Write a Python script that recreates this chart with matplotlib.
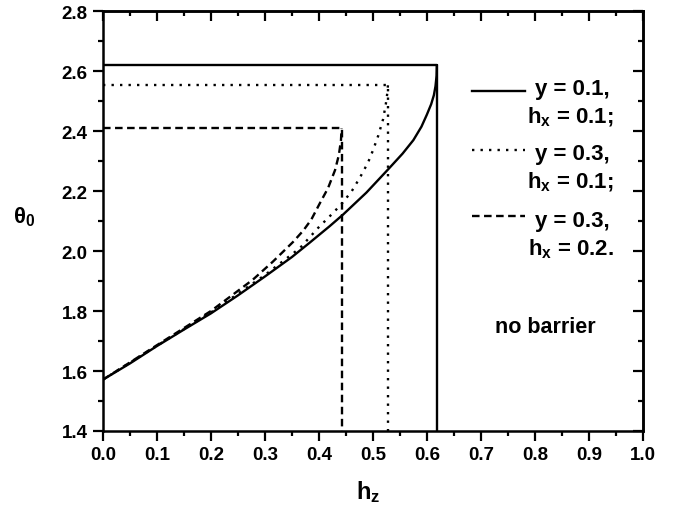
import numpy as np
import matplotlib
matplotlib.use("Agg")
import matplotlib.pyplot as plt
from matplotlib.ticker import MultipleLocator

plt.rcParams['font.family'] = ['Liberation Sans', 'DejaVu Sans']
plt.rcParams['mathtext.default'] = 'regular'

# curvas theta_0(h_z) hasta la barrera
hz_solid = [0.0, 0.05, 0.1, 0.15, 0.2, 0.25, 0.3, 0.35, 0.383, 0.42, 0.445, 0.488, 0.528,
            0.555, 0.575, 0.59, 0.60, 0.608, 0.613, 0.616, 0.618, 0.6185]
th_solid = [1.571, 1.625, 1.683, 1.738, 1.792, 1.852, 1.915, 1.98, 2.028, 2.083, 2.122, 2.195, 2.272,
            2.325, 2.37, 2.415, 2.455, 2.49, 2.52, 2.55, 2.585, 2.62]

hz_dot = [0.0, 0.1, 0.2, 0.3, 0.365, 0.38, 0.399, 0.424, 0.442, 0.461, 0.476, 0.491,
          0.5, 0.51, 0.519, 0.524, 0.527, 0.528]
th_dot = [1.571, 1.684, 1.795, 1.92, 2.01, 2.04, 2.078, 2.123, 2.157, 2.20, 2.245, 2.295,
          2.335, 2.385, 2.44, 2.49, 2.53, 2.555]

hz_dash = [0.0, 0.1, 0.2, 0.241, 0.278, 0.315, 0.352, 0.371, 0.386, 0.402, 0.417, 0.43,
           0.437, 0.441, 0.442]
th_dash = [1.571, 1.686, 1.80, 1.855, 1.905, 1.965, 2.03, 2.068, 2.105, 2.16, 2.21, 2.27,
           2.32, 2.37, 2.409]

# limites de cada caso: h_z critico y theta maximo
hz_crit = [0.6185, 0.528, 0.442]
th_max = [2.62, 2.555, 2.409]

etiquetas_y = ['y = 0.1,', 'y = 0.3,', 'y = 0.3,']
etiquetas_hx = ['0.1;', '0.1;', '0.2.']

estilos = ['-', (0, (1, 2.6)), (0, (3.2, 1.9))]
curvas = [(hz_solid, th_solid), (hz_dot, th_dot), (hz_dash, th_dash)]

fig = plt.figure(figsize=(6.81, 5.10), dpi=100)
ax = fig.add_axes([0.151, 0.153, 0.793, 0.823])

for (hz, th), hc, tm, ls in zip(curvas, hz_crit, th_max, estilos):
    ax.plot(hz, th, color='black', lw=1.7, ls=ls)
    ax.plot([0, hc, hc], [tm, tm, 1.4], color='black', lw=1.7, ls=ls)

ax.set_xlim(0, 1.0)
ax.set_ylim(1.4, 2.8)
ax.xaxis.set_major_locator(MultipleLocator(0.1))
ax.xaxis.set_minor_locator(MultipleLocator(0.05))
ax.yaxis.set_major_locator(MultipleLocator(0.2))
ax.yaxis.set_minor_locator(MultipleLocator(0.1))
ax.xaxis.set_major_formatter(plt.FormatStrFormatter('%.1f'))
ax.yaxis.set_major_formatter(plt.FormatStrFormatter('%.1f'))

for s in ax.spines.values():
    s.set_linewidth(1.8)

ax.tick_params(which='both', direction='out', width=1.6, top=False, right=False)
ax.tick_params(which='major', length=7, labelsize=13.5, pad=4)
ax.tick_params(which='minor', length=3.5)
for lab in ax.get_xticklabels() + ax.get_yticklabels():
    lab.set_fontweight('bold')

# ticks interiores arriba y a la derecha
ax2 = ax.secondary_xaxis('top')
ax2.xaxis.set_major_locator(MultipleLocator(0.1))
ax2.xaxis.set_minor_locator(MultipleLocator(0.05))
ax2.tick_params(which='both', direction='in', width=1.6, labeltop=False)
ax2.tick_params(which='major', length=7)
ax2.tick_params(which='minor', length=3.5)
ax3 = ax.secondary_yaxis('right')
ax3.yaxis.set_major_locator(MultipleLocator(0.2))
ax3.yaxis.set_minor_locator(MultipleLocator(0.1))
ax3.tick_params(which='both', direction='in', width=1.6, labelright=False)
ax3.tick_params(which='major', length=7)
ax3.tick_params(which='minor', length=3.5)
ax2.spines['top'].set_linewidth(1.8)
ax3.spines['right'].set_linewidth(1.8)

fig.text(0.035, 0.575, r'θ$_0$', fontsize=16, fontweight='bold', ha='center', va='center')
fig.text(0.54, 0.035, r'h$_z$', fontsize=17, fontweight='bold', ha='center', va='center')

# leyenda manual
y_linea = [0.810, 0.669, 0.512]
y_texto1 = [0.802, 0.648, 0.488]
y_texto2 = [0.736, 0.581, 0.421]
for yl, y1, y2, ls, e1, e2 in zip(y_linea, y_texto1, y_texto2, estilos, etiquetas_y, etiquetas_hx):
    ax.plot([0.683, 0.781], [yl, yl], transform=ax.transAxes, color='black', lw=1.7, ls=ls)
    ax.text(0.939, y1, e1, transform=ax.transAxes, fontsize=16, fontweight='bold',
            ha='right', va='baseline')
    ax.text(0.946, y2, r'h$_x$ = ' + e2, transform=ax.transAxes, fontsize=16, fontweight='bold',
            ha='right', va='baseline')

ax.text(0.819, 0.25, 'no barrier', transform=ax.transAxes, fontsize=15.5, fontweight='bold',
        ha='center', va='center')

fig.savefig('out.png', dpi=100)
